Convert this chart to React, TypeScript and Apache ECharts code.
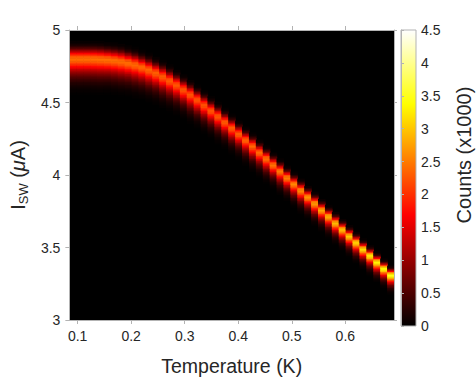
import React, { useEffect, useRef } from 'react';
import * as echarts from 'echarts';

// Temperature (K) of each measured column
const temperatures = [
  0.0910, 0.1039, 0.1168, 0.1297, 0.1426, 0.1555, 0.1684, 0.1813, 0.1942, 0.2071,
  0.2200, 0.2329, 0.2458, 0.2587, 0.2716, 0.2845, 0.2974, 0.3103, 0.3232, 0.3361,
  0.3490, 0.3619, 0.3748, 0.3877, 0.4006, 0.4135, 0.4264, 0.4393, 0.4522, 0.4651,
  0.4780, 0.4909, 0.5038, 0.5167, 0.5296, 0.5425, 0.5554, 0.5683, 0.5812, 0.5941,
  0.6070, 0.6199, 0.6328, 0.6457, 0.6586, 0.6715, 0.6844,
];
// Most likely switching current (µA) per column
const peakCurrent = [
  4.805, 4.805, 4.805, 4.804, 4.802, 4.799, 4.794, 4.787, 4.777, 4.764,
  4.748, 4.729, 4.707, 4.682, 4.654, 4.624, 4.592, 4.558, 4.522, 4.485,
  4.447, 4.408, 4.368, 4.327, 4.286, 4.244, 4.202, 4.159, 4.116, 4.073,
  4.029, 3.985, 3.941, 3.897, 3.852, 3.807, 3.762, 3.717, 3.672, 3.627,
  3.582, 3.537, 3.492, 3.447, 3.402, 3.357, 3.312,
];
// Peak counts (x1000) per column
const peakCounts = [
  2.45, 2.45, 2.45, 2.45, 2.45, 2.45, 2.44, 2.43, 2.42, 2.40,
  2.38, 2.36, 2.34, 2.32, 2.30, 2.28, 2.27, 2.26, 2.26, 2.26,
  2.27, 2.28, 2.30, 2.32, 2.34, 2.36, 2.38, 2.41, 2.44, 2.47,
  2.51, 2.55, 2.59, 2.63, 2.68, 2.73, 2.80, 2.87, 2.94, 3.00,
  3.06, 3.13, 3.20, 3.27, 3.35, 3.43, 3.52,
];
// Distribution width (µA) per column
const peakWidth = [
  0.041, 0.041, 0.041, 0.041, 0.041, 0.040, 0.040, 0.040, 0.039, 0.039,
  0.038, 0.038, 0.037, 0.037, 0.036, 0.035, 0.034, 0.034, 0.033, 0.033,
  0.032, 0.032, 0.031, 0.031, 0.030, 0.030, 0.030, 0.029, 0.029, 0.028,
  0.028, 0.027, 0.027, 0.027, 0.026, 0.026, 0.025, 0.025, 0.025, 0.024,
  0.024, 0.024, 0.023, 0.023, 0.023, 0.022, 0.022,
];
// Skewed switching-distribution shape (offset in widths, relative counts)
const profileOffset = [3, 2.5, 2, 1.5, 1, 0.5, 0, -0.5, -1, -1.5, -2, -2.5, -3, -3.5, -4, -4.5, -5, -5.5, -6];
const profileShape = [0.01, 0.04, 0.14, 0.34, 0.62, 0.89, 1, 0.94, 0.8, 0.64, 0.48, 0.35, 0.24, 0.16, 0.1, 0.06, 0.03, 0.015, 0.005];

const tempStep = 0.0129;
const currentBin = 0.01;
const xTicks = [0.1, 0.2, 0.3, 0.4, 0.5, 0.6];
const hotColors = ['#000000', '#550000', '#aa0000', '#ff0000', '#ff5500', '#ffaa00', '#ffff00', '#ffff80', '#ffffff'];

function shapeAt(u: number): number {
  const first = profileOffset[0];
  const last = profileOffset[profileOffset.length - 1];
  if (u > first || u < last) return 0;
  const pos = (first - u) / 0.5;
  const k = Math.floor(pos);
  const f = pos - k;
  const a = profileShape[k];
  const b = k + 1 < profileShape.length ? profileShape[k + 1] : 0;
  return a + (b - a) * f;
}

const cells: number[][] = [];
temperatures.forEach((t, i) => {
  const c0 = peakCurrent[i];
  const w = peakWidth[i];
  const n = peakCounts[i];
  const lo = Math.floor((c0 - 6 * w) / currentBin);
  const hi = Math.ceil((c0 + 3 * w) / currentBin);
  for (let b = lo; b <= hi; b++) {
    const y = +(b * currentBin).toFixed(3);
    const v = n * shapeAt((y - c0) / w);
    if (v > 0.01) cells.push([t, y, v]);
  }
});

const textColor = '#262626';
const lineColor = '#b3b3b3';
const font = '"Liberation Sans", Arial, Helvetica, sans-serif';

export default function App() {
  const ref = useRef<HTMLDivElement>(null);
  useEffect(() => {
    if (!ref.current) return;
    const chart = echarts.init(ref.current, undefined, { renderer: 'svg' });
    const xMin = temperatures[0] - tempStep / 2;
    const xMax = temperatures[temperatures.length - 1] + tempStep / 2;
    const boxAxisLine = { show: true, lineStyle: { color: lineColor, width: 1 } };
    const option: any = {
      animation: false,
      textStyle: { fontFamily: font },
      grid: [
        { left: 59, top: 30, width: 335, height: 296, show: true, backgroundColor: '#000000', borderWidth: 0 },
        { left: 401, top: 30, width: 15, height: 296 },
      ],
      visualMap: {
        type: 'continuous',
        show: false,
        min: 0,
        max: 4.5,
        dimension: 2,
        seriesIndex: 0,
        inRange: { color: hotColors },
      },
      xAxis: [
        {
          gridIndex: 0, type: 'value', min: xMin, max: xMax, position: 'bottom', z: 5,
          axisLine: boxAxisLine,
          axisTick: { show: true, length: 4, lineStyle: { color: lineColor }, customValues: xTicks },
          axisLabel: { customValues: xTicks, color: textColor, fontSize: 14, fontFamily: font, margin: 9 },
          splitLine: { show: false },
          name: 'Temperature (K)', nameLocation: 'middle', nameGap: 36,
          nameTextStyle: { color: textColor, fontSize: 19.5, fontFamily: font },
        },
        {
          gridIndex: 0, type: 'value', min: xMin, max: xMax, position: 'top', z: 5,
          axisLine: boxAxisLine,
          axisTick: { show: true, length: 4, lineStyle: { color: lineColor }, customValues: xTicks },
          axisLabel: { show: false },
          splitLine: { show: false },
        },
        { gridIndex: 1, type: 'value', min: 0, max: 1, show: false },
      ],
      yAxis: [
        {
          gridIndex: 0, type: 'value', min: 3, max: 5, interval: 0.5, position: 'left', z: 5,
          axisLine: boxAxisLine,
          axisTick: { show: true, length: 4, lineStyle: { color: lineColor } },
          axisLabel: { color: textColor, fontSize: 14, fontFamily: font, margin: 9 },
          splitLine: { show: false },
          name: '{i|I}{s|SW}{n| (}{m|μ}{n|A)}', nameLocation: 'middle', nameRotate: 90, nameGap: 39,
          nameTextStyle: {
            color: textColor, fontFamily: font,
            rich: {
              i: { fontSize: 20, color: textColor, fontFamily: font, lineHeight: 24, verticalAlign: 'middle' },
              s: { fontSize: 13, color: textColor, fontFamily: font, lineHeight: 13, verticalAlign: 'bottom' },
              n: { fontSize: 20, color: textColor, fontFamily: font, lineHeight: 24, verticalAlign: 'middle' },
              m: { fontSize: 20, color: textColor, fontFamily: font, fontStyle: 'italic', lineHeight: 24, verticalAlign: 'middle' },
            },
          },
        },
        {
          gridIndex: 0, type: 'value', min: 3, max: 5, interval: 0.5, position: 'right', z: 5,
          axisLine: boxAxisLine,
          axisTick: { show: true, length: 3, lineStyle: { color: lineColor } },
          axisLabel: { show: false },
          splitLine: { show: false },
        },
        {
          gridIndex: 1, type: 'value', min: 0, max: 4.5, interval: 0.5, position: 'right', z: 5,
          axisLine: boxAxisLine,
          axisTick: { show: true, length: 3, lineStyle: { color: lineColor } },
          axisLabel: { color: textColor, fontSize: 14, fontFamily: font, margin: 5 },
          splitLine: { show: false },
        },
      ],
      graphic: [
        {
          type: 'text', x: 464, y: 155, rotation: Math.PI / 2,
          style: { text: 'Counts (x1000)', fill: textColor, font: `20px ${font}`, align: 'center', verticalAlign: 'middle' },
        },
      ],
      series: [
        {
          type: 'custom',
          xAxisIndex: 0, yAxisIndex: 0,
          data: cells,
          encode: { x: 0, y: 1 },
          clip: true,
          z: 2,
          renderItem: (params: any, api: any) => {
            const t = api.value(0);
            const c = api.value(1);
            const p0 = api.coord([t - tempStep / 2, c + currentBin / 2]);
            const p1 = api.coord([t + tempStep / 2, c - currentBin / 2]);
            return {
              type: 'rect',
              shape: { x: p0[0], y: p0[1], width: p1[0] - p0[0] + 0.6, height: p1[1] - p0[1] + 0.6 },
              style: { fill: api.visual('color') },
            };
          },
        },
        {
          type: 'custom',
          xAxisIndex: 2, yAxisIndex: 2,
          data: [[0, 0]],
          encode: { x: 0, y: 1 },
          silent: true,
          renderItem: (params: any, api: any) => {
            const p0 = api.coord([0, 4.5]);
            const p1 = api.coord([1, 0]);
            return {
              type: 'rect',
              shape: { x: p0[0], y: p0[1], width: p1[0] - p0[0], height: p1[1] - p0[1] },
              style: {
                fill: new echarts.graphic.LinearGradient(0, 1, 0, 0,
                  hotColors.map((col, k) => ({ offset: k / (hotColors.length - 1), color: col }))),
                stroke: lineColor,
                lineWidth: 1,
              },
            };
          },
        },
      ],
    };
    chart.setOption(option);
    return () => chart.dispose();
  }, []);
  return <div ref={ref} style={{ position: 'fixed', left: 0, top: 0, width: 476, height: 381, background: '#ffffff' }} />;
}
